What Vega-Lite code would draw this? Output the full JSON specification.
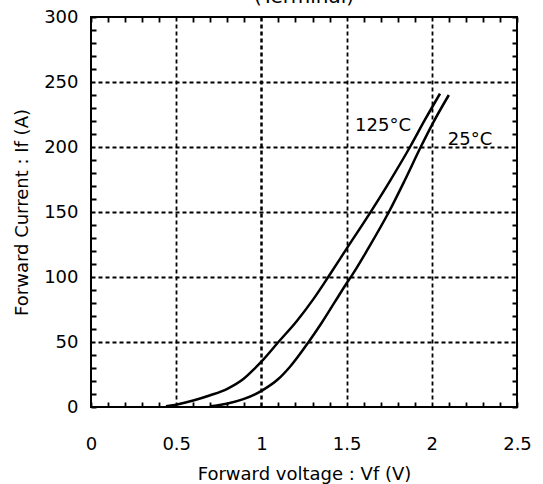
{
  "$schema": "https://vega.github.io/schema/vega-lite/v6.json",
  "autosize": "none",
  "padding": {"left": 91, "top": 17, "right": 26, "bottom": 77},
  "width": 426,
  "height": 390,
  "background": "white",
  "title": {"text": "(Terminal)", "fontSize": 20, "font": "DejaVu Sans", "fontWeight": "normal", "baseline": "alphabetic", "offset": -15, "anchor": "middle", "frame": "group", "color": "black"},
  "config": {
    "view": {"stroke": "black", "strokeWidth": 2},
    "axis": {"labelFont": "DejaVu Sans", "titleFont": "DejaVu Sans", "labelColor": "black", "titleColor": "black", "titleFontWeight": "normal", "labelFlush": false, "labelOverlap": false, "labelBound": false, "domain": false, "ticks": false, "tickSize": 0}
  },
  "datasets": {
    "curves": [
      {"series": "125°C", "vf": 0.44, "current": 0.5},
      {"series": "125°C", "vf": 0.506, "current": 2},
      {"series": "125°C", "vf": 0.60, "current": 5},
      {"series": "125°C", "vf": 0.70, "current": 9},
      {"series": "125°C", "vf": 0.80, "current": 14},
      {"series": "125°C", "vf": 0.894, "current": 21.5},
      {"series": "125°C", "vf": 0.96, "current": 29.5},
      {"series": "125°C", "vf": 1.008, "current": 36},
      {"series": "125°C", "vf": 1.10, "current": 50},
      {"series": "125°C", "vf": 1.207, "current": 66},
      {"series": "125°C", "vf": 1.305, "current": 83},
      {"series": "125°C", "vf": 1.397, "current": 101},
      {"series": "125°C", "vf": 1.506, "current": 123},
      {"series": "125°C", "vf": 1.636, "current": 149},
      {"series": "125°C", "vf": 1.755, "current": 174},
      {"series": "125°C", "vf": 1.872, "current": 200},
      {"series": "125°C", "vf": 1.96, "current": 221},
      {"series": "125°C", "vf": 2.048, "current": 241},
      {"series": "25°C", "vf": 0.698, "current": 0.5},
      {"series": "25°C", "vf": 0.796, "current": 2.5},
      {"series": "25°C", "vf": 0.894, "current": 6},
      {"series": "25°C", "vf": 1.008, "current": 13},
      {"series": "25°C", "vf": 1.099, "current": 21.5},
      {"series": "25°C", "vf": 1.168, "current": 31},
      {"series": "25°C", "vf": 1.277, "current": 50},
      {"series": "25°C", "vf": 1.355, "current": 65},
      {"series": "25°C", "vf": 1.432, "current": 81},
      {"series": "25°C", "vf": 1.504, "current": 96},
      {"series": "25°C", "vf": 1.535, "current": 102},
      {"series": "25°C", "vf": 1.627, "current": 122},
      {"series": "25°C", "vf": 1.748, "current": 150},
      {"series": "25°C", "vf": 1.84, "current": 174},
      {"series": "25°C", "vf": 1.935, "current": 200},
      {"series": "25°C", "vf": 2.009, "current": 219},
      {"series": "25°C", "vf": 2.10, "current": 240}
    ],
    "labels": [
      {"label": "125°C", "vf": 1.714, "current": 216.5},
      {"label": "25°C", "vf": 2.224, "current": 205.6}
    ]
  },
  "encoding": {
    "x": {"field": "vf", "type": "quantitative", "scale": {"domain": [0, 2.5], "nice": false, "zero": false},
      "axis": {"orient": "bottom", "title": "Forward voltage : Vf (V)", "titleFontSize": 18, "titlePadding": 12,
        "values": [0,0.1,0.2,0.3,0.4,0.5,0.6,0.7,0.8,0.9,1,1.1,1.2,1.3,1.4,1.5,1.6,1.7,1.8,1.9,2,2.1,2.2,2.3,2.4,2.5],
        "labelExpr": "abs(datum.value*2 - round(datum.value*2)) < 0.001 ? format(datum.value, '~g') : ''",
        "labelFontSize": 18, "labelPadding": 28,
        "grid": true, "gridColor": "black", "gridOpacity": 1,
        "gridDash": {"condition": {"test": "abs(datum.value*2 - round(datum.value*2)) < 0.001 && datum.value > 0.01 && datum.value < 2.49", "value": [4, 3]}, "value": [5, 380, 5, 1000]},
        "gridWidth": {"condition": {"test": "abs(datum.value - 1) < 0.001", "value": 2.5}, "value": 1.8}}},
    "y": {"field": "current", "type": "quantitative", "scale": {"domain": [0, 300], "nice": false},
      "axis": {"orient": "left", "title": "Forward Current : If (A)", "titleFontSize": 18, "titlePadding": 12,
        "values": [0,10,20,30,40,50,60,70,80,90,100,110,120,130,140,150,160,170,180,190,200,210,220,230,240,250,260,270,280,290,300],
        "labelExpr": "datum.value % 50 === 0 ? datum.label : ''",
        "labelFontSize": 18, "labelPadding": 13,
        "grid": true, "gridColor": "black", "gridOpacity": 1, "gridWidth": 1.8,
        "gridDash": {"condition": {"test": "datum.value % 50 === 0 && datum.value > 0 && datum.value < 300", "value": [4, 3]}, "value": [5, 416, 5, 1000]}}}
  },
  "layer": [
    {
      "data": {"name": "curves"},
      "mark": {"type": "line", "color": "black", "strokeWidth": 2.5, "interpolate": "monotone"},
      "encoding": {"detail": {"field": "series", "type": "nominal"}}
    },
    {
      "data": {"name": "labels"},
      "mark": {"type": "text", "font": "DejaVu Sans", "fontSize": 18, "color": "black", "align": "center", "baseline": "middle"},
      "encoding": {"text": {"field": "label", "type": "nominal"}}
    }
  ]
}
